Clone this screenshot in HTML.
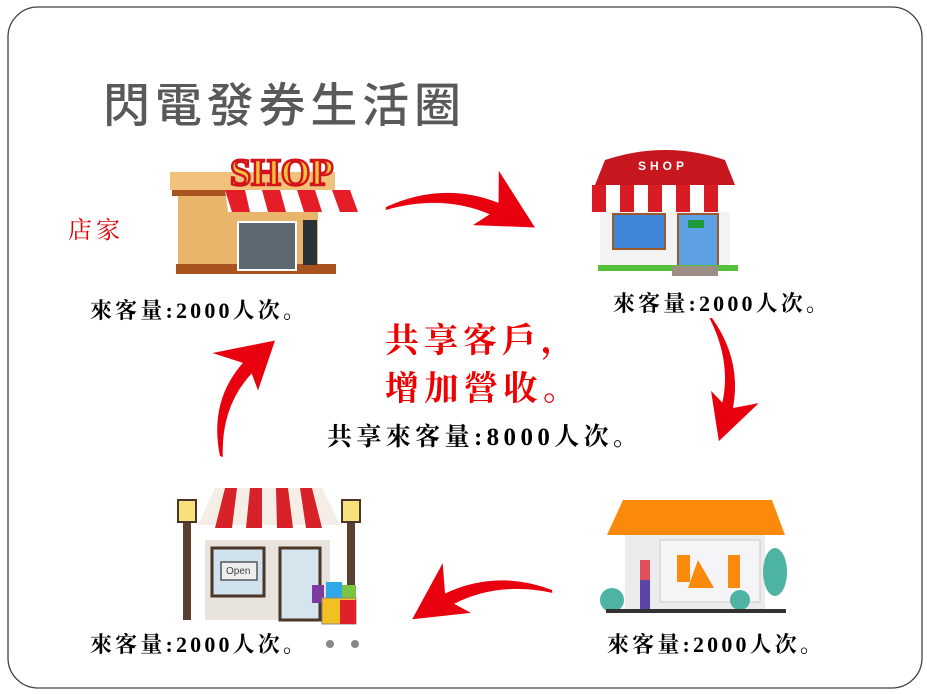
<!DOCTYPE html>
<html><head><meta charset="utf-8"><style>
html,body{margin:0;padding:0;background:#fff;}
svg{display:block}
.lbl{font-family:"Liberation Serif","Noto Serif CJK SC",serif;font-weight:bold;font-size:22px;fill:#000}
</style></head><body>
<svg width="927" height="694" viewBox="0 0 927 694" xmlns="http://www.w3.org/2000/svg">
<rect x="0" y="0" width="927" height="694" fill="#fff"/>
<rect x="8" y="7" width="914" height="681" rx="30" fill="#fff" stroke="#404040" stroke-width="1.3"/>
<text x="103" y="122" font-family="'Liberation Sans','Noto Sans CJK TC',sans-serif" font-size="47" font-weight="500" fill="#595959" textLength="358" lengthAdjust="spacing">閃電發券生活圈</text>
<text x="68" y="238" font-family="'Liberation Serif','Noto Serif CJK SC',serif" font-size="24" fill="#e00000" letter-spacing="4">店家</text>

<defs>
<path id="arr" d="M0,0 Q55,-30 112,-12 L110,-44 L150,10 L88,12 L104,0 Q55,-17 0,3 Z" fill="#e8000f"/>
</defs>
<use href="#arr" transform="translate(386,207) rotate(4)"/>
<use href="#arr" transform="translate(712,318) rotate(83) scale(0.82)"/>
<use href="#arr" transform="translate(552,590) rotate(172) scale(0.95,-0.95)"/>
<use href="#arr" transform="translate(220,456) rotate(-69) scale(0.85,1)"/>

<!-- shop 1 -->
<g>
<rect x="178" y="185" width="140" height="85" fill="#e9b56b"/>
<rect x="170" y="172" width="165" height="18" fill="#f0c27c"/>
<rect x="172" y="190" width="160" height="6" fill="#a9541e"/>
<rect x="176" y="264" width="160" height="10" fill="#a9541e"/>
<rect x="238" y="222" width="58" height="48" fill="#5d6870" stroke="#fff" stroke-width="2"/>
<rect x="303" y="220" width="14" height="45" fill="#2a3238"/>
<path d="M225,190 L365,190 L368,212 L228,212 Z" fill="#fff"/>
<g fill="#e51d26">
<path d="M225,190 L245,190 L250,212 L232,212Z"/><path d="M262,190 L280,190 L286,212 L268,212Z"/>
<path d="M297,190 L315,190 L322,212 L304,212Z"/><path d="M332,190 L350,190 L358,212 L340,212Z"/>
</g>
<text x="230" y="185" font-family="'Liberation Serif',serif" font-weight="bold" font-size="38" fill="#f4c23a" stroke="#d3141c" stroke-width="2.5">SHOP</text>
</g>

<!-- shop 2 -->
<g>
<rect x="600" y="208" width="130" height="62" fill="#f3f3f3"/>
<path d="M605,160 Q665,140 725,160 L735,185 L595,185 Z" fill="#c8161e"/>
<text x="638" y="170" font-family="'Liberation Sans',sans-serif" font-weight="bold" font-size="12" fill="#fff" letter-spacing="4">SHOP</text>
<path d="M592,185 L738,185 L738,212 L592,212 Z" fill="#fff"/>
<g fill="#d81c24"><rect x="592" y="185" width="14" height="27"/><rect x="620" y="185" width="14" height="27"/><rect x="648" y="185" width="14" height="27"/><rect x="676" y="185" width="14" height="27"/><rect x="704" y="185" width="14" height="27"/></g>
<rect x="613" y="214" width="52" height="35" fill="#3f86d8" stroke="#9a5a2e" stroke-width="2"/>
<rect x="678" y="214" width="40" height="52" fill="#5ea0e4" stroke="#9a5a2e" stroke-width="2"/>
<rect x="688" y="220" width="16" height="8" fill="#1e9a3a"/>
<rect x="598" y="265" width="140" height="6" fill="#56c03a"/>
<rect x="672" y="266" width="46" height="10" fill="#9c8e84"/>
</g>

<!-- shop 3 (bottom left) -->
<g>
<rect x="183" y="510" width="8" height="110" fill="#5a4030"/>
<rect x="178" y="500" width="18" height="22" fill="#f5e07a" stroke="#4a3528" stroke-width="2"/>
<rect x="347" y="510" width="8" height="100" fill="#5a4030"/>
<rect x="342" y="500" width="18" height="22" fill="#f5e07a" stroke="#4a3528" stroke-width="2"/>
<rect x="205" y="540" width="125" height="80" fill="#e8e3dc"/>
<path d="M215,488 L322,488 L340,525 L198,525 Z" fill="#f4eee6"/>
<g fill="#d7222a"><path d="M225,488 L237,488 L232,528 L215,528Z"/><path d="M250,488 L262,488 L262,528 L246,528Z"/><path d="M276,488 L288,488 L293,528 L277,528Z"/><path d="M300,488 L312,488 L322,528 L306,528Z"/></g>
<rect x="212" y="548" width="52" height="48" fill="#cfe2ee" stroke="#4a3528" stroke-width="3"/>
<rect x="221" y="562" width="36" height="18" fill="#eee" stroke="#555" stroke-width="1.5"/>
<text x="226" y="574" font-family="'Liberation Sans',sans-serif" font-size="10" fill="#444">Open</text>
<rect x="280" y="548" width="40" height="72" fill="#d5e5ee" stroke="#4a3528" stroke-width="3"/>
<rect x="312" y="585" width="12" height="18" fill="#7f3aa0"/><rect x="326" y="582" width="16" height="20" fill="#2ea8e6"/><rect x="342" y="585" width="14" height="18" fill="#7cc340"/>
<rect x="322" y="598" width="34" height="26" fill="#f2c020" stroke="#888"/><rect x="340" y="600" width="16" height="24" fill="#e0202a"/>
<circle cx="330" cy="644" r="4" fill="#888"/><circle cx="355" cy="644" r="4" fill="#888"/>
</g>

<!-- shop 4 (bottom right) -->
<g>
<rect x="625" y="530" width="140" height="80" fill="#ececec"/>
<path d="M623,500 L772,500 L785,535 L607,535 Z" fill="#fb8a0c"/>
<rect x="660" y="540" width="100" height="62" fill="#f5f5f8" stroke="#ccc"/>
<path d="M677,555 L690,555 L690,582 L677,582Z M698,560 L714,588 L688,588 Z M728,555 L740,555 L740,588 L728,588Z" fill="#fb8a0c"/>
<rect x="640" y="560" width="10" height="20" fill="#e0505a"/><rect x="640" y="580" width="10" height="30" fill="#5b46a8"/>
<circle cx="612" cy="600" r="12" fill="#4db3a3"/><circle cx="740" cy="600" r="10" fill="#4db3a3"/>
<ellipse cx="775" cy="572" rx="12" ry="24" fill="#4db3a3"/>
<rect x="606" y="609" width="180" height="4" fill="#333"/>
</g>

<text class="lbl" x="90" y="318" textLength="215" lengthAdjust="spacing">來客量:2000人次。</text>
<text class="lbl" x="613" y="311" textLength="215" lengthAdjust="spacing">來客量:2000人次。</text>
<text class="lbl" x="90" y="652" textLength="215" lengthAdjust="spacing">來客量:2000人次。</text>
<text class="lbl" x="607" y="652" textLength="215" lengthAdjust="spacing">來客量:2000人次。</text>

<text x="385" y="352" font-family="'Liberation Serif','Noto Serif CJK SC',serif" font-weight="bold" font-size="34" fill="#ee0000" textLength="190" lengthAdjust="spacing">共享客戶，</text>
<text x="385" y="400" font-family="'Liberation Serif','Noto Serif CJK SC',serif" font-weight="bold" font-size="34" fill="#ee0000" textLength="192" lengthAdjust="spacing">增加營收。</text>
<text x="327" y="445" font-family="'Liberation Serif','Noto Serif CJK SC',serif" font-weight="bold" font-size="25" fill="#000" textLength="311" lengthAdjust="spacing">共享來客量:8000人次。</text>
</svg>
</body></html>
